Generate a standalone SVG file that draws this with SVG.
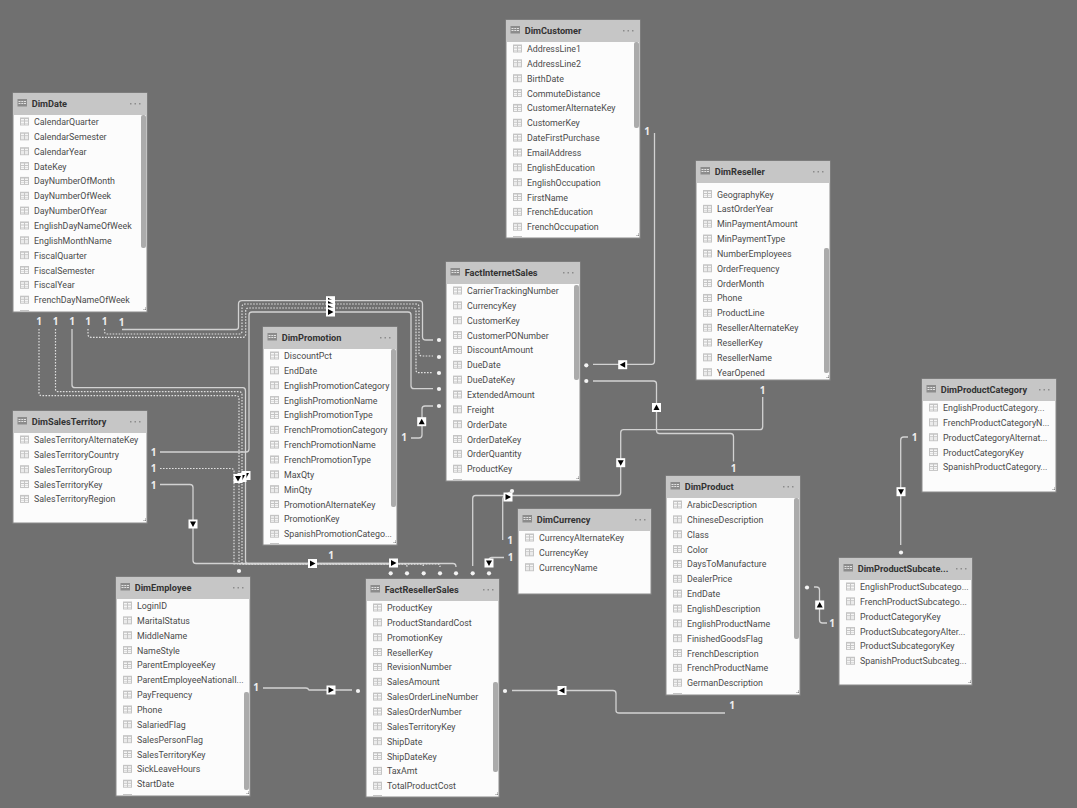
<svg xmlns="http://www.w3.org/2000/svg" width="1077" height="808" viewBox="0 0 1077 808">
<style>
.b{fill:#fcfcfc;stroke:#8a8a8a;stroke-width:1}
.h{fill:#c6c6c6}
.s{fill:#ababab}
.r{font:8.85px Roboto,"Open Sans","Liberation Sans",sans-serif;fill:#4a4a4a}
.t{font:700 9.2px Roboto,"Open Sans","Liberation Sans",sans-serif;fill:#333}
.o{font:700 10px "Open Sans","Liberation Sans",sans-serif;fill:#eee;text-anchor:middle}
.c{fill:none;stroke:#d2d2d2;stroke-width:1.3}
.k{fill:none;stroke:#e0e0e0;stroke-width:1.2;stroke-dasharray:1.6 1.4}
.v{fill:#c4c4c4}
</style>
<defs>
<g id="i"><rect x="7" y="0" width="9" height="8" fill="#c4c4c4"/><path d="M8 1.500h3v1.500h-3zM12 1.500h3v1.500h-3zM8 4h3v1.500h-3zM12 4h3v1.500h-3zM8 6h3v1h-3zM12 6h3v1h-3z" fill="#f6f6f6"/></g>
<g id="hi"><rect x="4.500" y="6" width="9.500" height="7.500" fill="#8c8c8c"/><path d="M5.500 8h2v1h-2zM8.300 8h2v1h-2zM11 8h2v1h-2zM5.500 10h2v1h-2zM8.300 10h2v1h-2zM11 10h2v1h-2z" fill="#e2e2e2"/></g>
<g id="dots" fill="#8c8c8c"><rect x="117" y="10" width="1.500" height="1.500"/><rect x="121.500" y="10" width="1.500" height="1.500"/><rect x="126" y="10" width="1.500" height="1.500"/></g>
<path id="rz" d="M3.500 1h1v1h-1zM2 2.500h1v1h-1zM3.500 2.500h1v1h-1z" fill="#8a8a8a"/>
<g id="ar"><rect x="-4.500" y="-4.500" width="9" height="9" fill="#fff"/><path d="M-2.500-3L3 0-2.500 3z"/></g>
<g id="al"><rect x="-4.500" y="-4.500" width="9" height="9" fill="#fff"/><path d="M2.500-3L-3 0 2.500 3z"/></g>
<g id="au"><rect x="-4.500" y="-4.500" width="9" height="9" fill="#fff"/><path d="M-3 2.500L0-3 3 2.500z"/></g>
<g id="ad"><rect x="-4.500" y="-4.500" width="9" height="9" fill="#fff"/><path d="M-3-2.500L0 3 3-2.500z"/></g>
<circle id="n" r="2.100" fill="#f4f4f4"/>
</defs>
<rect width="1077" height="808" fill="#707070"/>

<g id="connectors">
<path class="k" d="M39 329V393Q39 395.700 42 395.700H236Q239 395.700 239 399V564"/>
<path class="k" d="M55.500 329V389Q55.500 391.700 58 391.700H239Q242 391.700 242 395V564H421Q423.500 564 423.500 567"/>
<path class="c" d="M72 329V385Q72 387.700 75 387.700H243Q245.500 387.700 245.500 391V561Q245.500 563.500 248 563.500H453Q456 563.500 456 567"/>
<path class="k" d="M88 329V334Q88 337.300 91 337.300H243Q245.700 337.300 245.700 334V311Q245.700 308 249 308H413Q416 308 416 311V370Q416 372.700 419 372.700H433"/>
<path class="k" d="M104.500 329V331Q104.500 334 107 334H239Q242 334 242 331V307Q242 304 245 304H416Q419 304 419 307V353Q419 356 422 356H433"/>
<path class="c" d="M122 329.500H236Q238.500 329.500 238.500 327V304Q238.500 300.700 242 300.700H419Q422.500 300.700 422.500 304V337Q422.500 340 426 340H433"/>
<path class="c" d="M160 452H246Q249 452 249 449V315Q249 312 252 312H408Q411 312 411 315V385.700Q411 388.700 414 388.700H433"/>
<path class="k" d="M160 468.500H231Q234 468.500 234 471.500V564H437.500Q440 564 440 567"/>
<path class="c" d="M160 484.500H190Q193 484.500 193 487.500V560.500Q193 563.500 196 563.500H388Q390.700 563.500 390.700 566"/>
<path class="k" d="M239 564H404.500Q407 564 407 567"/>
<path class="c" d="M433 406H425Q422 406 422 409V435Q422 438 419 438H411"/>
<path class="c" d="M593 364.300H651.500Q654.500 364.300 654.500 361V133"/>
<path class="c" d="M593 381H653.500Q656.500 381 656.500 384V430.500Q656.500 433.500 659.500 433.500H730.500Q733.500 433.500 733.500 436.500V461.500"/>
<path class="c" d="M762.700 397V426.700Q762.700 429.700 759.700 429.700H623.700Q620.700 429.700 620.700 432.700V492.500Q620.700 495.500 617.700 495.500H475.700Q472.700 495.500 472.700 498.500V566"/>
<path class="c" d="M502.700 540V499Q502.700 497 505 495.500L510 492"/>
<path class="c" d="M489 566V560.500Q489 557.500 492 557.500H504"/>
<path class="c" d="M263 688H306Q308 688 309 690H352"/>
<path class="c" d="M512 690.500H613Q616 690.500 616 693.500V710.500Q616 713 619 713H725"/>
<path class="c" d="M814 587H816.500Q819.500 587 819.500 590V620Q819.500 623 822.500 623H827"/>
<path class="c" stroke-width="1.500" d="M900.700 545V440Q900.700 437 903.700 437H908"/>
<use href="#n" x="439" y="340"/><use href="#n" x="439" y="357"/><use href="#n" x="439" y="373"/><use href="#n" x="439" y="389"/><use href="#n" x="439" y="406"/>
<use href="#n" x="239" y="571"/>
<use href="#n" x="390.700" y="573.300"/><use href="#n" x="407" y="573.300"/><use href="#n" x="423.700" y="573.300"/><use href="#n" x="440" y="573.300"/><use href="#n" x="456" y="573.300"/><use href="#n" x="472.700" y="573.300"/><use href="#n" x="489" y="573.300"/>
<use href="#n" x="512" y="491"/><use href="#n" x="586.300" y="365.300"/><use href="#n" x="586.300" y="381"/><use href="#n" x="358" y="691"/><use href="#n" x="505" y="691"/><use href="#n" x="807" y="587.500"/><use href="#n" x="901" y="552.500"/>
<use href="#ar" x="330.500" y="300.700"/><use href="#ar" x="330.500" y="304"/><use href="#ar" x="330.500" y="308"/><use href="#ar" x="330.500" y="312"/>
<use href="#ad" x="246" y="475.500"/><use href="#ad" x="242" y="477.500"/><use href="#ad" x="238" y="478.500"/>
<use href="#ad" x="193" y="524"/><use href="#ar" x="312.500" y="563.500"/><use href="#ar" x="393.500" y="563"/>
<use href="#au" x="421.700" y="421.700"/><use href="#al" x="622.700" y="364.700"/><use href="#au" x="656.500" y="407.500"/><use href="#ad" x="620.700" y="462.700"/><use href="#ar" x="508" y="497"/><use href="#ad" x="489" y="563"/><use href="#ar" x="331" y="690"/><use href="#al" x="562" y="690.500"/><use href="#au" x="819.700" y="605"/><use href="#ad" x="901" y="491.700"/>
<text class="o" x="39" y="325">1</text><text class="o" x="55.500" y="325">1</text><text class="o" x="72" y="325">1</text><text class="o" x="88" y="325">1</text><text class="o" x="104.500" y="325">1</text><text class="o" x="121.500" y="326">1</text>
<text class="o" x="153.500" y="455.500">1</text><text class="o" x="153.500" y="472">1</text><text class="o" x="153.500" y="488.500">1</text>
<text class="o" x="404" y="441">1</text><text class="o" x="331" y="559">1</text><text class="o" x="510" y="544">1</text><text class="o" x="510.500" y="561">1</text>
<text class="o" x="647" y="135">1</text><text class="o" x="762.700" y="393.500">1</text><text class="o" x="733.500" y="471.500">1</text><text class="o" x="914.500" y="441">1</text><text class="o" x="832" y="627">1</text><text class="o" x="732" y="709">1</text><text class="o" x="256" y="691">1</text>
</g>

<g id="DimCustomer" transform="translate(506 20)"><rect class="b" width="134" height="218"/><rect class="h" width="134" height="22"/><use href="#hi"/><text class="t" x="18.700" y="13.500">DimCustomer</text><use href="#dots"/><rect class="s" x="128" y="22" width="5" height="86" rx="2"/><use href="#rz" x="128.500" y="212.500"/><rect class="v" x="7" y="216" width="9" height="1.500"/>
<use href="#i" y="24.500"/><text class="r" x="21" y="32">AddressLine1</text><use href="#i" y="39.350"/><text class="r" x="21" y="46.850">AddressLine2</text><use href="#i" y="54.200"/><text class="r" x="21" y="61.700">BirthDate</text><use href="#i" y="69.050"/><text class="r" x="21" y="76.550">CommuteDistance</text><use href="#i" y="83.900"/><text class="r" x="21" y="91.400">CustomerAlternateKey</text><use href="#i" y="98.750"/><text class="r" x="21" y="106.250">CustomerKey</text><use href="#i" y="113.600"/><text class="r" x="21" y="121.100">DateFirstPurchase</text><use href="#i" y="128.450"/><text class="r" x="21" y="135.950">EmailAddress</text><use href="#i" y="143.300"/><text class="r" x="21" y="150.800">EnglishEducation</text><use href="#i" y="158.150"/><text class="r" x="21" y="165.650">EnglishOccupation</text><use href="#i" y="173"/><text class="r" x="21" y="180.500">FirstName</text><use href="#i" y="187.850"/><text class="r" x="21" y="195.350">FrenchEducation</text><use href="#i" y="202.700"/><text class="r" x="21" y="210.200">FrenchOccupation</text></g>

<g id="DimDate" transform="translate(13 93)"><rect class="b" width="134" height="219"/><rect class="h" width="134" height="22"/><use href="#hi"/><text class="t" x="18.700" y="13.500">DimDate</text><use href="#dots"/><rect class="s" x="128" y="22" width="5" height="133" rx="2"/><use href="#rz" x="128.500" y="213.500"/><rect class="v" x="7" y="217" width="9" height="1.500"/>
<use href="#i" y="24.500"/><text class="r" x="21" y="32">CalendarQuarter</text><use href="#i" y="39.350"/><text class="r" x="21" y="46.850">CalendarSemester</text><use href="#i" y="54.200"/><text class="r" x="21" y="61.700">CalendarYear</text><use href="#i" y="69.050"/><text class="r" x="21" y="76.550">DateKey</text><use href="#i" y="83.900"/><text class="r" x="21" y="91.400">DayNumberOfMonth</text><use href="#i" y="98.750"/><text class="r" x="21" y="106.250">DayNumberOfWeek</text><use href="#i" y="113.600"/><text class="r" x="21" y="121.100">DayNumberOfYear</text><use href="#i" y="128.450"/><text class="r" x="21" y="135.950">EnglishDayNameOfWeek</text><use href="#i" y="143.300"/><text class="r" x="21" y="150.800">EnglishMonthName</text><use href="#i" y="158.150"/><text class="r" x="21" y="165.650">FiscalQuarter</text><use href="#i" y="173"/><text class="r" x="21" y="180.500">FiscalSemester</text><use href="#i" y="187.850"/><text class="r" x="21" y="195.350">FiscalYear</text><use href="#i" y="202.700"/><text class="r" x="21" y="210.200">FrenchDayNameOfWeek</text></g>

<g id="DimReseller" transform="translate(696 161)"><rect class="b" width="134" height="219"/><rect class="h" width="134" height="22"/><use href="#hi"/><text class="t" x="18.700" y="13.500">DimReseller</text><use href="#dots"/><rect class="s" x="128" y="87" width="5" height="125" rx="2"/><use href="#rz" x="128.500" y="213.500"/>
<g transform="translate(0 4.500)"><use href="#i" y="24.500"/><text class="r" x="21" y="32">GeographyKey</text><use href="#i" y="39.350"/><text class="r" x="21" y="46.850">LastOrderYear</text><use href="#i" y="54.200"/><text class="r" x="21" y="61.700">MinPaymentAmount</text><use href="#i" y="69.050"/><text class="r" x="21" y="76.550">MinPaymentType</text><use href="#i" y="83.900"/><text class="r" x="21" y="91.400">NumberEmployees</text><use href="#i" y="98.750"/><text class="r" x="21" y="106.250">OrderFrequency</text><use href="#i" y="113.600"/><text class="r" x="21" y="121.100">OrderMonth</text><use href="#i" y="128.450"/><text class="r" x="21" y="135.950">Phone</text><use href="#i" y="143.300"/><text class="r" x="21" y="150.800">ProductLine</text><use href="#i" y="158.150"/><text class="r" x="21" y="165.650">ResellerAlternateKey</text><use href="#i" y="173"/><text class="r" x="21" y="180.500">ResellerKey</text><use href="#i" y="187.850"/><text class="r" x="21" y="195.350">ResellerName</text><use href="#i" y="202.700"/><text class="r" x="21" y="210.200">YearOpened</text></g></g>

<g id="FactInternetSales" transform="translate(446 262)"><rect class="b" width="134" height="219"/><rect class="h" width="134" height="22"/><use href="#hi"/><text class="t" x="18.700" y="13.500">FactInternetSales</text><use href="#dots"/><rect class="s" x="128" y="23" width="5" height="95" rx="2"/><use href="#rz" x="128.500" y="213.500"/><rect class="v" x="7" y="217" width="9" height="1.500"/>
<use href="#i" y="24.500"/><text class="r" x="21" y="32">CarrierTrackingNumber</text><use href="#i" y="39.350"/><text class="r" x="21" y="46.850">CurrencyKey</text><use href="#i" y="54.200"/><text class="r" x="21" y="61.700">CustomerKey</text><use href="#i" y="69.050"/><text class="r" x="21" y="76.550">CustomerPONumber</text><use href="#i" y="83.900"/><text class="r" x="21" y="91.400">DiscountAmount</text><use href="#i" y="98.750"/><text class="r" x="21" y="106.250">DueDate</text><use href="#i" y="113.600"/><text class="r" x="21" y="121.100">DueDateKey</text><use href="#i" y="128.450"/><text class="r" x="21" y="135.950">ExtendedAmount</text><use href="#i" y="143.300"/><text class="r" x="21" y="150.800">Freight</text><use href="#i" y="158.150"/><text class="r" x="21" y="165.650">OrderDate</text><use href="#i" y="173"/><text class="r" x="21" y="180.500">OrderDateKey</text><use href="#i" y="187.850"/><text class="r" x="21" y="195.350">OrderQuantity</text><use href="#i" y="202.700"/><text class="r" x="21" y="210.200">ProductKey</text></g>

<g id="DimPromotion" transform="translate(263 327)"><rect class="b" width="134" height="218"/><rect class="h" width="134" height="22"/><use href="#hi"/><text class="t" x="18.700" y="13.500">DimPromotion</text><use href="#dots"/><rect class="s" x="128" y="22" width="5" height="158" rx="2"/><use href="#rz" x="128.500" y="212.500"/><rect class="v" x="7" y="216" width="9" height="1.500"/>
<use href="#i" y="24.500"/><text class="r" x="21" y="32">DiscountPct</text><use href="#i" y="39.350"/><text class="r" x="21" y="46.850">EndDate</text><use href="#i" y="54.200"/><text class="r" x="21" y="61.700">EnglishPromotionCategory</text><use href="#i" y="69.050"/><text class="r" x="21" y="76.550">EnglishPromotionName</text><use href="#i" y="83.900"/><text class="r" x="21" y="91.400">EnglishPromotionType</text><use href="#i" y="98.750"/><text class="r" x="21" y="106.250">FrenchPromotionCategory</text><use href="#i" y="113.600"/><text class="r" x="21" y="121.100">FrenchPromotionName</text><use href="#i" y="128.450"/><text class="r" x="21" y="135.950">FrenchPromotionType</text><use href="#i" y="143.300"/><text class="r" x="21" y="150.800">MaxQty</text><use href="#i" y="158.150"/><text class="r" x="21" y="165.650">MinQty</text><use href="#i" y="173"/><text class="r" x="21" y="180.500">PromotionAlternateKey</text><use href="#i" y="187.850"/><text class="r" x="21" y="195.350">PromotionKey</text><use href="#i" y="202.700"/><text class="r" x="21" y="210.200">SpanishPromotionCatego...</text></g>

<g id="DimSalesTerritory" transform="translate(13 411)"><rect class="b" width="134" height="112"/><rect class="h" width="134" height="22"/><use href="#hi"/><text class="t" x="18.700" y="13.500">DimSalesTerritory</text><use href="#dots"/><use href="#rz" x="128.500" y="106.500"/>
<use href="#i" y="24.500"/><text class="r" x="21" y="32">SalesTerritoryAlternateKey</text><use href="#i" y="39.350"/><text class="r" x="21" y="46.850">SalesTerritoryCountry</text><use href="#i" y="54.200"/><text class="r" x="21" y="61.700">SalesTerritoryGroup</text><use href="#i" y="69.050"/><text class="r" x="21" y="76.550">SalesTerritoryKey</text><use href="#i" y="83.900"/><text class="r" x="21" y="91.400">SalesTerritoryRegion</text></g>

<g id="DimProductCategory" transform="translate(922 379)"><rect class="b" width="134" height="113"/><rect class="h" width="134" height="22"/><use href="#hi"/><text class="t" x="18.700" y="13.500">DimProductCategory</text><use href="#dots"/><use href="#rz" x="128.500" y="107.500"/>
<use href="#i" y="24.500"/><text class="r" x="21" y="32">EnglishProductCategory...</text><use href="#i" y="39.350"/><text class="r" x="21" y="46.850">FrenchProductCategoryN...</text><use href="#i" y="54.200"/><text class="r" x="21" y="61.700">ProductCategoryAlternat...</text><use href="#i" y="69.050"/><text class="r" x="21" y="76.550">ProductCategoryKey</text><use href="#i" y="83.900"/><text class="r" x="21" y="91.400">SpanishProductCategory...</text></g>

<g id="DimProduct" transform="translate(666 476)"><rect class="b" width="134" height="219"/><rect class="h" width="134" height="22"/><use href="#hi"/><text class="t" x="18.700" y="13.500">DimProduct</text><use href="#dots"/><rect class="s" x="128" y="22" width="5" height="141" rx="2"/><use href="#rz" x="128.500" y="213.500"/><rect class="v" x="7" y="217" width="9" height="1.500"/>
<use href="#i" y="24.500"/><text class="r" x="21" y="32">ArabicDescription</text><use href="#i" y="39.350"/><text class="r" x="21" y="46.850">ChineseDescription</text><use href="#i" y="54.200"/><text class="r" x="21" y="61.700">Class</text><use href="#i" y="69.050"/><text class="r" x="21" y="76.550">Color</text><use href="#i" y="83.900"/><text class="r" x="21" y="91.400">DaysToManufacture</text><use href="#i" y="98.750"/><text class="r" x="21" y="106.250">DealerPrice</text><use href="#i" y="113.600"/><text class="r" x="21" y="121.100">EndDate</text><use href="#i" y="128.450"/><text class="r" x="21" y="135.950">EnglishDescription</text><use href="#i" y="143.300"/><text class="r" x="21" y="150.800">EnglishProductName</text><use href="#i" y="158.150"/><text class="r" x="21" y="165.650">FinishedGoodsFlag</text><use href="#i" y="173"/><text class="r" x="21" y="180.500">FrenchDescription</text><use href="#i" y="187.850"/><text class="r" x="21" y="195.350">FrenchProductName</text><use href="#i" y="202.700"/><text class="r" x="21" y="210.200">GermanDescription</text></g>

<g id="DimCurrency" transform="translate(518 509)"><rect class="b" width="133" height="85"/><rect class="h" width="133" height="22"/><use href="#hi"/><text class="t" x="18.700" y="13.500">DimCurrency</text><use href="#dots"/>
<use href="#i" y="24.500"/><text class="r" x="21" y="32">CurrencyAlternateKey</text><use href="#i" y="39.350"/><text class="r" x="21" y="46.850">CurrencyKey</text><use href="#i" y="54.200"/><text class="r" x="21" y="61.700">CurrencyName</text></g>

<g id="DimProductSubcategory" transform="translate(839 558)"><rect class="b" width="133" height="127"/><rect class="h" width="133" height="22"/><use href="#hi"/><text class="t" x="18.700" y="13.500">DimProductSubcate...</text><use href="#dots"/><use href="#rz" x="127.500" y="121.500"/>
<use href="#i" y="24.500"/><text class="r" x="21" y="32">EnglishProductSubcatego...</text><use href="#i" y="39.350"/><text class="r" x="21" y="46.850">FrenchProductSubcatego...</text><use href="#i" y="54.200"/><text class="r" x="21" y="61.700">ProductCategoryKey</text><use href="#i" y="69.050"/><text class="r" x="21" y="76.550">ProductSubcategoryAlter...</text><use href="#i" y="83.900"/><text class="r" x="21" y="91.400">ProductSubcategoryKey</text><use href="#i" y="98.750"/><text class="r" x="21" y="106.250">SpanishProductSubcateg...</text></g>

<g id="DimEmployee" transform="translate(116 577)"><rect class="b" width="134" height="219"/><rect class="h" width="134" height="22"/><use href="#hi"/><text class="t" x="18.700" y="13.500">DimEmployee</text><use href="#dots"/><rect class="s" x="128" y="115" width="5" height="98" rx="2"/><use href="#rz" x="128.500" y="213.500"/><rect class="v" x="7" y="217" width="9" height="1.500"/>
<use href="#i" y="24.500"/><text class="r" x="21" y="32">LoginID</text><use href="#i" y="39.350"/><text class="r" x="21" y="46.850">MaritalStatus</text><use href="#i" y="54.200"/><text class="r" x="21" y="61.700">MiddleName</text><use href="#i" y="69.050"/><text class="r" x="21" y="76.550">NameStyle</text><use href="#i" y="83.900"/><text class="r" x="21" y="91.400">ParentEmployeeKey</text><use href="#i" y="98.750"/><text class="r" x="21" y="106.250">ParentEmployeeNationalI...</text><use href="#i" y="113.600"/><text class="r" x="21" y="121.100">PayFrequency</text><use href="#i" y="128.450"/><text class="r" x="21" y="135.950">Phone</text><use href="#i" y="143.300"/><text class="r" x="21" y="150.800">SalariedFlag</text><use href="#i" y="158.150"/><text class="r" x="21" y="165.650">SalesPersonFlag</text><use href="#i" y="173"/><text class="r" x="21" y="180.500">SalesTerritoryKey</text><use href="#i" y="187.850"/><text class="r" x="21" y="195.350">SickLeaveHours</text><use href="#i" y="202.700"/><text class="r" x="21" y="210.200">StartDate</text></g>

<g id="FactResellerSales" transform="translate(366 579)"><rect class="b" width="133" height="218"/><rect class="h" width="133" height="22"/><use href="#hi"/><text class="t" x="18.700" y="13.500">FactResellerSales</text><use href="#dots"/><rect class="s" x="127" y="103" width="5" height="90" rx="2"/><use href="#rz" x="127.500" y="212.500"/><rect class="v" x="7" y="216" width="9" height="1.500"/>
<use href="#i" y="24.500"/><text class="r" x="21" y="32">ProductKey</text><use href="#i" y="39.350"/><text class="r" x="21" y="46.850">ProductStandardCost</text><use href="#i" y="54.200"/><text class="r" x="21" y="61.700">PromotionKey</text><use href="#i" y="69.050"/><text class="r" x="21" y="76.550">ResellerKey</text><use href="#i" y="83.900"/><text class="r" x="21" y="91.400">RevisionNumber</text><use href="#i" y="98.750"/><text class="r" x="21" y="106.250">SalesAmount</text><use href="#i" y="113.600"/><text class="r" x="21" y="121.100">SalesOrderLineNumber</text><use href="#i" y="128.450"/><text class="r" x="21" y="135.950">SalesOrderNumber</text><use href="#i" y="143.300"/><text class="r" x="21" y="150.800">SalesTerritoryKey</text><use href="#i" y="158.150"/><text class="r" x="21" y="165.650">ShipDate</text><use href="#i" y="173"/><text class="r" x="21" y="180.500">ShipDateKey</text><use href="#i" y="187.850"/><text class="r" x="21" y="195.350">TaxAmt</text><use href="#i" y="202.700"/><text class="r" x="21" y="210.200">TotalProductCost</text></g>
</svg>
